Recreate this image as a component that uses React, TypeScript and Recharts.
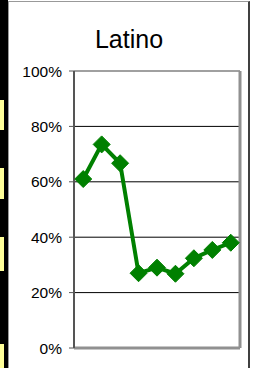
import React from 'react';
import {
  LineChart, Line, XAxis, YAxis, CartesianGrid, ReferenceLine
} from 'recharts';

// values (share, 0..1)
const positions = [1, 2, 3, 4, 5, 6, 7, 8, 9];
const latino = [0.61, 0.735, 0.667, 0.27, 0.29, 0.268, 0.324, 0.354, 0.38];
const yTicks = [0, 0.2, 0.4, 0.6, 0.8, 1];

const data = positions.map((p, i) => ({ idx: p, latino: latino[i] }));

const FONT = '"Liberation Sans", Arial, sans-serif';
const GREEN = '#008000';

// yellow cells of the neighbouring sheet that shows on the left edge
const yellowCells = [
  [100, 130],
  [168, 199],
  [237, 271],
  [344, 368],
];

const Diamond = (props: any) => {
  const { cx, cy } = props;
  if (cx == null || cy == null) return null;
  const r = 8.5;
  return (
    <polygon
      points={`${cx},${cy - r} ${cx + r},${cy} ${cx},${cy + r} ${cx - r},${cy}`}
      fill={GREEN}
      stroke={GREEN}
      strokeWidth={1}
      strokeLinejoin="round"
    />
  );
};

export default function App() {
  return (
    <div
      style={{
        position: 'fixed',
        left: 0,
        top: 0,
        width: 254,
        height: 368,
        background: '#fff',
        overflow: 'hidden',
        fontFamily: FONT,
      }}
    >
      {/* left edge strip */}
      <div style={{ position: 'absolute', left: 0, top: 0, width: 8, height: 368, background: '#000' }} />
      {yellowCells.map(([a, b], i) => (
        <div
          key={i}
          style={{ position: 'absolute', left: 0, top: a, width: 4, height: b - a, background: '#ffff99' }}
        />
      ))}
      {/* chart frame */}
      <div
        style={{
          position: 'absolute',
          left: 8,
          top: 1,
          width: 239,
          height: 380,
          borderLeft: '1px solid #999',
          borderTop: '1px solid #999',
          borderRight: '2px solid #404040',
        }}
      />
      <div style={{ position: 'absolute', left: 0, top: 0 }}>
        <LineChart
          width={254}
          height={368}
          data={data}
          margin={{ top: 71, right: 14, bottom: 20, left: 0 }}
        >
          <CartesianGrid vertical={false} stroke="#000" strokeWidth={1} />
          <XAxis dataKey="idx" type="number" domain={[0.5, 9.5]} hide />
          <YAxis
            domain={[0, 1]}
            ticks={yTicks}
            width={74}
            interval={0}
            tickSize={5}
            tickMargin={7}
            tickFormatter={(v: number) => `${Math.round(v * 100)}%`}
            tick={{ fontSize: 15.5, fill: '#000', fontFamily: FONT }}
            tickLine={{ stroke: '#555', strokeWidth: 1 }}
            axisLine={{ stroke: '#555', strokeWidth: 2 }}
          />
          <ReferenceLine y={1} stroke="#a0a0a0" strokeWidth={2} />
          <ReferenceLine y={0} stroke="#909090" strokeWidth={3} />
          <ReferenceLine x={9.5} stroke="#909090" strokeWidth={3} />
          <Line
            dataKey="latino"
            stroke={GREEN}
            strokeWidth={4}
            dot={<Diamond />}
            activeDot={false}
            isAnimationActive={false}
          />
        </LineChart>
      </div>
      <svg
        width={254}
        height={368}
        style={{ position: 'absolute', left: 0, top: 0, pointerEvents: 'none' }}
      >
        <text x={129} y={48} textAnchor="middle" fontSize={25} fontFamily={FONT} fill="#000">
          Latino
        </text>
      </svg>
    </div>
  );
}
